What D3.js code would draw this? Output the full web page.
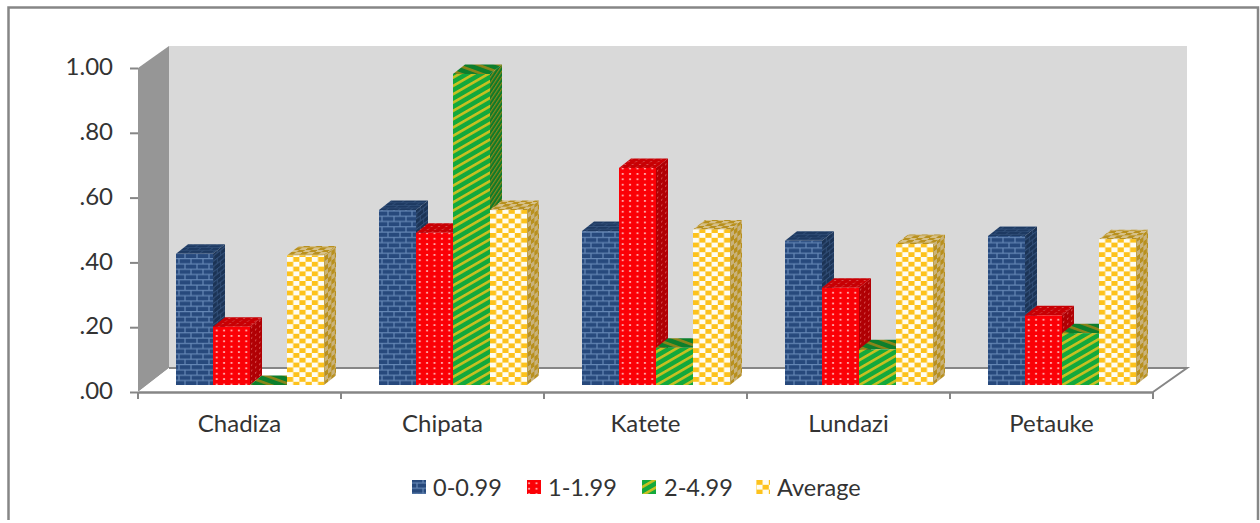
<!DOCTYPE html>
<html>
<head>
<meta charset="utf-8">
<title>Chart</title>
<script src="https://cdn.jsdelivr.net/npm/d3@7/dist/d3.min.js"></script>
<style>
  html, body { margin: 0; padding: 0; background: #fff; }
  svg { display: block; }
  text { font-family: Lato, "Open Sans", sans-serif; fill: #333; }
</style>
</head>
<body>
<svg id="chart" width="1260" height="523"></svg>
<script>
// Values by district and income band
const categories = ["Chadiza", "Chipata", "Katete", "Lundazi", "Petauke"];
const seriesNames = ["0-0.99", "1-1.99", "2-4.99", "Average"];
const band0 = [0.405, 0.54, 0.475, 0.445, 0.46];
const band1 = [0.18, 0.47, 0.67, 0.30, 0.215];
const band2 = [0.00, 0.96, 0.115, 0.11, 0.16];
const average = [0.40, 0.54, 0.48, 0.435, 0.45];
const tickValues = [0, 0.2, 0.4, 0.6, 0.8, 1];
const tickLabels = [".00", ".20", ".40", ".60", ".80", "1.00"];

const seriesValues = [band0, band1, band2, average];

const svg = d3.select("#chart");
const defs = svg.append("defs");

// Plot box of the front plane, and the 3-D depth of walls and bars
const plot = { left: 138, right: 1153, top: 68, bottom: 392 };
const wall = { dx: 33, dy: 24, backTop: 46 };
const bar = { dx: 12, dy: 9.5, liftY: 7 };

const x0 = d3.scaleBand().domain(categories).range([plot.left, plot.right]);
const x1 = d3.scaleBand().domain(seriesNames).range([38, 186]);
const y = d3.scaleLinear().domain([0, 1]).range([plot.bottom, plot.top]);

// Fill textures: one tile per series, one colouring per face
function addPattern(id, w, h, transform, draw, bg) {
  const p = defs.append("pattern")
    .attr("id", id)
    .attr("patternUnits", "userSpaceOnUse")
    .attr("width", w)
    .attr("height", h)
    .attr("patternTransform", transform || null);
  p.append("rect").attr("width", w).attr("height", h).attr("fill", bg);
  draw(p);
}

function brick(mortar) {
  return p => {
    const line = (x1, y1, x2, y2) => p.append("line")
      .attr("x1", x1).attr("y1", y1).attr("x2", x2).attr("y2", y2)
      .attr("stroke", mortar).attr("stroke-width", 1.2);
    line(0, 0.6, 12, 0.6);
    line(0, 5.9, 12, 5.9);
    line(3, 0.6, 3, 5.9);
    line(9, 5.9, 9, 11.2);
  };
}

function dots(colour) {
  return p => p.append("rect")
    .attr("x", 2.7).attr("y", 1.8).attr("width", 2).attr("height", 1.8)
    .attr("fill", colour);
}

function stripe(colour) {
  return p => p.append("rect")
    .attr("width", 7.2).attr("height", 2.6).attr("fill", colour);
}

function checker(colour) {
  return p => {
    p.append("rect").attr("x", 0).attr("y", 0).attr("width", 6.2).attr("height", 4.8).attr("fill", colour);
    p.append("rect").attr("x", 6.2).attr("y", 4.8).attr("width", 6.2).attr("height", 4.8).attr("fill", colour);
  };
}

const sideSkew = "skewY(-38) scale(0.55,1)";
const topSkew = "skewX(-52) scale(1,0.5)";

addPattern("s0-front", 12, 10.6, null, brick("#6587b5"), "#27497c");
addPattern("s0-side", 12, 10.6, sideSkew, brick("#34527c"), "#1b3355");
addPattern("s0-top", 12, 10.6, topSkew, brick("#34527c"), "#1e3a62");

addPattern("s1-front", 7.4, 5.4, null, dots("#ffa5a5"), "#fb0006");
addPattern("s1-side", 7.4, 5.4, sideSkew, dots("#d85050"), "#b00004");
addPattern("s1-top", 7.4, 5.4, topSkew, dots("#d85050"), "#c80004");

addPattern("s2-front", 7.2, 7.2, "rotate(-30)", stripe("#c9c020"), "#13a93c");
addPattern("s2-side", 7.2, 7.2, "skewY(-38) scale(0.55,0.7) rotate(-30)", stripe("#8b8518"), "#0d7a2a");
addPattern("s2-top", 7.2, 7.2, "rotate(20)", stripe("#8b8518"), "#0d7f2c");

addPattern("s3-front", 12.4, 9.6, null, checker("#fdc21c"), "#fffdf2");
addPattern("s3-side", 12.4, 9.6, sideSkew, checker("#b8901e"), "#c9b27a");
addPattern("s3-top", 12.4, 9.6, topSkew, checker("#b8901e"), "#d6c088");

// Outer frame, open along the lower edge
svg.append("path")
  .attr("d", "M8.5,520V7.5H1258V520")
  .attr("fill", "none")
  .attr("stroke", "#868686")
  .attr("stroke-width", 2.5);

// Back wall, side wall and floor
const backX0 = plot.left + wall.dx - 2;
const backX1 = plot.right + wall.dx + 1;
const backY1 = plot.bottom - wall.dy;

svg.append("rect")
  .attr("x", backX0).attr("y", wall.backTop)
  .attr("width", backX1 - backX0).attr("height", backY1 - wall.backTop)
  .attr("fill", "#d9d9d9");

svg.append("polygon")
  .attr("points", [[plot.left, plot.top], [backX0, wall.backTop], [backX0, backY1], [plot.left, plot.bottom]].join(" "))
  .attr("fill", "#969696");

svg.append("polygon")
  .attr("points", [[plot.left, plot.bottom], [backX0, backY1], [backX1, backY1], [plot.right, plot.bottom]].join(" "))
  .attr("fill", "#ffffff");

svg.append("path")
  .attr("d", `M${backX0},${backY1}H${backX1}L${plot.right},${plot.bottom}`)
  .attr("fill", "none")
  .attr("stroke", "#868686")
  .attr("stroke-width", 2);

// Bars, drawn left to right so nearer faces overlap their neighbours
const rows = categories.flatMap((c, ci) =>
  seriesNames.map((s, si) => ({ category: c, series: s, si, value: seriesValues[si][ci] })));

const bars = svg.append("g").selectAll("g")
  .data(rows)
  .join("g")
  .attr("transform", d => `translate(${x0(d.category) + x1(d.series)},${-bar.liftY})`);

const bw = x1.bandwidth();

bars.append("polygon")
  .attr("fill", d => `url(#s${d.si}-side)`)
  .attr("points", d => {
    const t = y(d.value), b = y(0);
    return [[bw, t], [bw + bar.dx, t - bar.dy], [bw + bar.dx, b - bar.dy], [bw, b]].join(" ");
  });

bars.append("polygon")
  .attr("fill", d => `url(#s${d.si}-top)`)
  .attr("points", d => {
    const t = y(d.value);
    return [[0, t], [bar.dx, t - bar.dy], [bw + bar.dx, t - bar.dy], [bw, t]].join(" ");
  });

bars.append("rect")
  .attr("x", 0)
  .attr("y", d => y(d.value))
  .attr("width", bw)
  .attr("height", d => y(0) - y(d.value))
  .attr("fill", d => `url(#s${d.si}-front)`);

// Value axis on the front edge of the side wall
const yAxis = svg.append("g")
  .attr("transform", `translate(${plot.left},0)`)
  .call(d3.axisLeft(y)
    .tickValues(tickValues)
    .tickFormat((d, i) => tickLabels[i])
    .tickSize(8)
    .tickPadding(17));
yAxis.select(".domain").remove();
yAxis.selectAll(".tick line").attr("stroke", "#868686").attr("stroke-width", 2);
yAxis.selectAll("text").style("font-size", "24px").attr("dy", "0.32em").attr("y", -1);

// Category axis: labels from the band scale, ticks on the band edges
const xAxis = svg.append("g")
  .attr("transform", `translate(0,${plot.bottom})`)
  .call(d3.axisBottom(x0).tickSize(0).tickPadding(23));
xAxis.select(".domain")
  .attr("stroke", "#868686").attr("stroke-width", 2.5);
xAxis.selectAll("text").style("font-size", "24px");

svg.append("g").selectAll("line")
  .data(categories.map(c => x0(c)).concat(plot.right))
  .join("line")
  .attr("x1", d => d).attr("x2", d => d)
  .attr("y1", plot.bottom).attr("y2", plot.bottom + 7)
  .attr("stroke", "#868686").attr("stroke-width", 2);

// Legend
const legendX = [412, 527, 642, 756];
const legendText = [433, 548, 664, 777];
const legend = svg.append("g").selectAll("g")
  .data(seriesNames)
  .join("g");
legend.append("rect")
  .attr("x", (d, i) => legendX[i]).attr("y", 480)
  .attr("width", 14).attr("height", 14)
  .attr("fill", (d, i) => `url(#s${i}-front)`);
legend.append("text")
  .attr("x", (d, i) => legendText[i]).attr("y", 496)
  .style("font-size", "23.5px")
  .text(d => d);
</script>
</body>
</html>
